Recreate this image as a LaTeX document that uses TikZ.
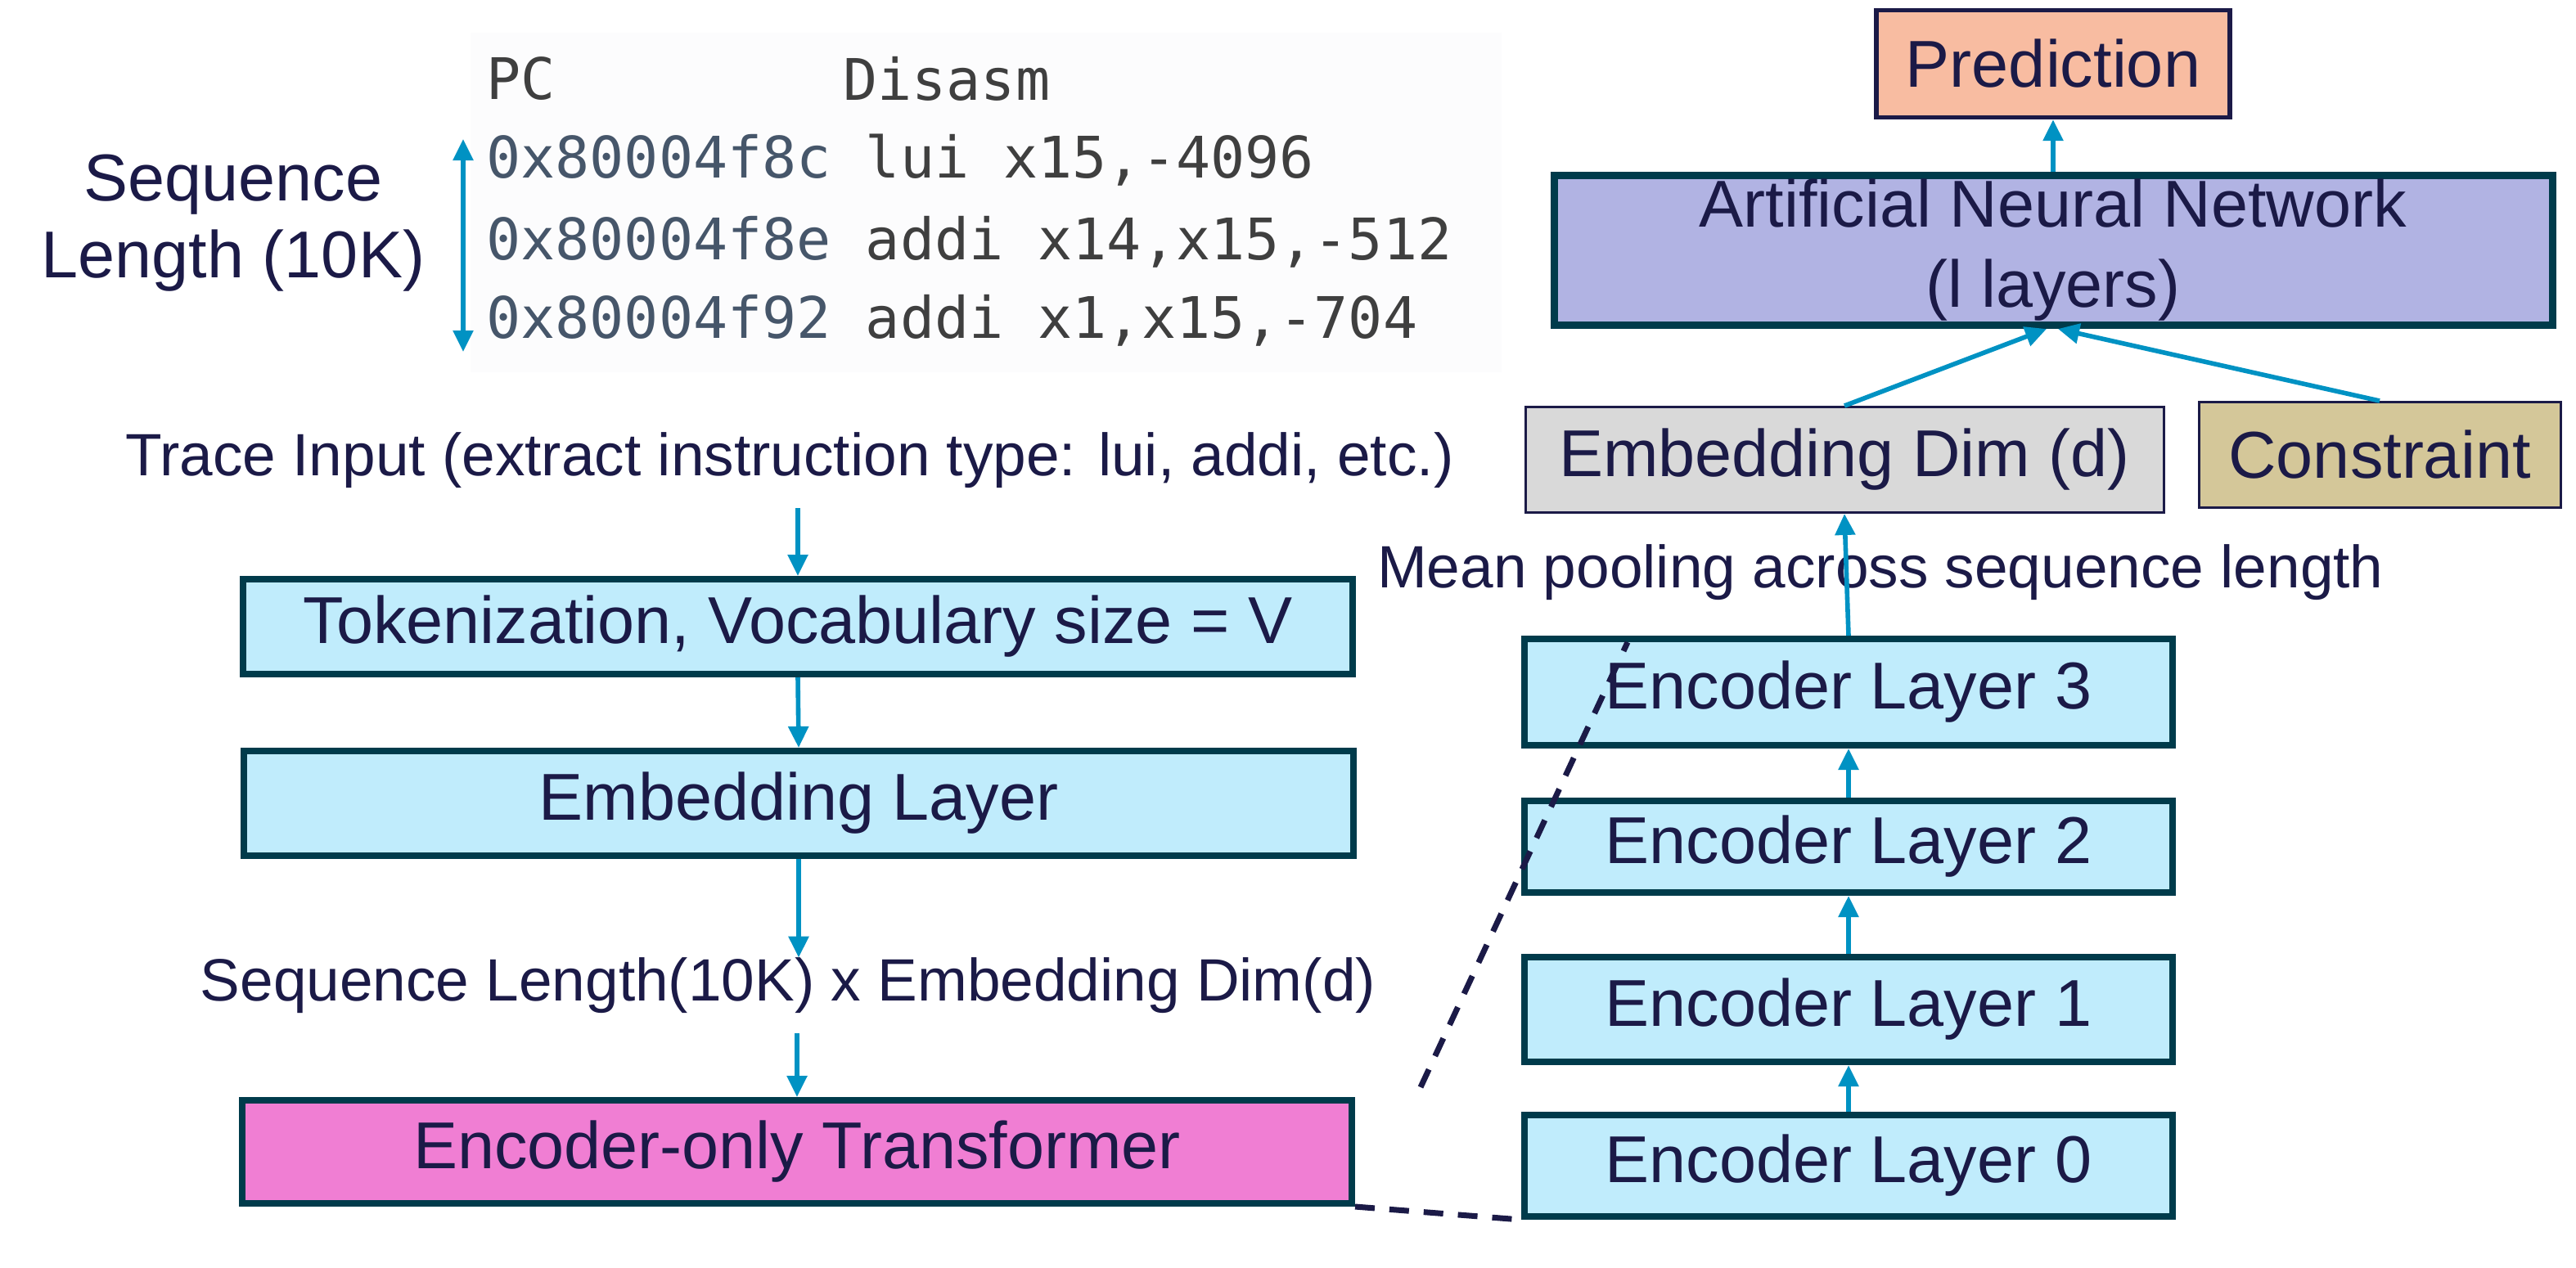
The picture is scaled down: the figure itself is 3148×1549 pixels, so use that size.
\documentclass[tikz,border=0pt]{standalone}
\usepackage{fontspec}
\setmainfont{Liberation Sans}
\setmonofont{DejaVu Sans Mono}
\usetikzlibrary{arrows.meta}

\definecolor{ink}{HTML}{1B1A47}
\definecolor{flow}{HTML}{0092C3}
\definecolor{edge}{HTML}{003B4B}
\definecolor{cyanfill}{HTML}{C0ECFC}
\definecolor{pinkfill}{HTML}{F07ED3}
\definecolor{lavfill}{HTML}{B1B3E3}
\definecolor{salmonfill}{HTML}{F8BCA1}
\definecolor{grayfill}{HTML}{D9D9D9}
\definecolor{khakifill}{HTML}{D4C799}
\definecolor{codehex}{HTML}{46566A}
\definecolor{codeasm}{HTML}{3F3F3F}
\definecolor{codebg}{HTML}{FCFCFD}

\tikzset{
  layerbox/.style={draw=edge, line width=4pt, text=ink, inner sep=0pt,
    font=\fontsize{40.5}{49}\selectfont},
  thinbox/.style={draw=ink, line width=1.5pt, text=ink, inner sep=0pt,
    font=\fontsize{40.5}{49}\selectfont},
  lbl/.style={text=ink, inner sep=0pt, font=\fontsize{36.5}{44}\selectfont},
  codeline/.style={inner sep=0pt, anchor=west, font=\ttfamily\fontsize{35}{42}\selectfont},
  arr/.style={draw=flow, line width=2.8pt, -{Triangle[length=13pt,width=12pt]}},
  zoomline/.style={draw=ink, line width=3.5pt, dash pattern=on 12pt off 9pt},
}

\begin{document}
\begin{tikzpicture}[x=0.5pt, y=-0.5pt]
\useasboundingbox (0,0) rectangle (3148,1549);

% trace snippet
\fill[codebg] (575,40) rectangle (1835,455);
\node[codeline, text=codeasm] (pchead) at (594,96) {PC};
\node[codeline, text=codeasm] (disasmhead) at (1030,96) {Disasm};
\node[codeline] (row1) at (594,196) {\textcolor{codehex}{0x80004f8c} \textcolor{codeasm}{lui x15,-4096}};
\node[codeline] (row2) at (594,296) {\textcolor{codehex}{0x80004f8e} \textcolor{codeasm}{addi x14,x15,-512}};
\node[codeline] (row3) at (594,392) {\textcolor{codehex}{0x80004f92} \textcolor{codeasm}{addi x1,x15,-704}};

% sequence length marker
\node[lbl, font=\fontsize{40.5}{47}\selectfont, align=center] (seqlen) at (285,273) {Sequence\\Length (10K)};
\coordinate (seqtop) at (566,170);
\coordinate (seqbot) at (566,430);
\draw[arr, {Triangle[length=13pt,width=12pt]}-{Triangle[length=13pt,width=12pt]}] (seqtop) -- (seqbot);

% left column
\node[lbl] (trace) at (965,563) {Trace Input (extract instruction type: lui, addi, etc.)};
\node[layerbox, fill=cyanfill, minimum width=678pt, minimum height=58pt] (tok) at (975,766) {Tokenization, Vocabulary size = V};
\node[layerbox, fill=cyanfill, minimum width=678pt, minimum height=64pt] (emb) at (976,982) {Embedding Layer};
\node[lbl] (shape) at (963,1205) {Sequence Length(10K) x Embedding Dim(d)};
\node[layerbox, fill=pinkfill, minimum width=678pt, minimum height=63pt] (trans) at (974,1408) {Encoder-only Transformer};

% encoder stack
\foreach \i/\y/\h in {0/1425/62, 1/1234/64, 2/1035/56, 3/846/65}{
\node[layerbox, fill=cyanfill, minimum width=396pt, minimum height=\h pt] (enc\i) at (2259,\y) {Encoder Layer \i};
}
\node[lbl] (pool) at (2298,700) {Mean pooling across sequence length};

% head
\node[thinbox, fill=grayfill, minimum width=390pt, minimum height=64.5pt] (embdim) at (2254,562) {Embedding Dim (d)};
\node[thinbox, fill=khakifill, minimum width=221pt, minimum height=64.5pt] (constraint) at (2908,556) {Constraint};
\node[layerbox, line width=4.5pt, fill=lavfill, minimum width=610pt, minimum height=91.5pt, align=center] (ann) at (2509,306) {Artificial Neural Network\\(l layers)};
\node[thinbox, line width=2.7pt, fill=salmonfill, minimum width=216pt, minimum height=65.5pt] (pred) at (2509,78) {Prediction};

% flow arrows
\draw[arr, shorten <=12pt] (tok.north |- trace.south) -- (tok.north);
\draw[arr] (tok.south) -- (emb.north);
\draw[arr] (emb.south) -- (emb.south |- shape.north);
\draw[arr, shorten <=12pt] (trans.north |- shape.south) -- (trans.north);
\foreach \a/\b in {0/1, 1/2, 2/3}{
\draw[arr] (enc\a.north) -- (enc\b.south);
}
\draw[arr] (enc3.north) -- (embdim.south);
\draw[arr] (embdim.north) -- ([xshift=-4pt]ann.south);
\draw[arr] (constraint.north) -- ([xshift=3pt]ann.south);
\draw[arr] (ann.north) -- (pred.south);

% zoom lines
\draw[zoomline] ([xshift=40pt,yshift=6pt]trans.north east) -- ([xshift=65pt,yshift=-4pt]enc3.north west);
\draw[zoomline] (trans.south east) -- (enc0.south west);

\end{tikzpicture}
\end{document}
